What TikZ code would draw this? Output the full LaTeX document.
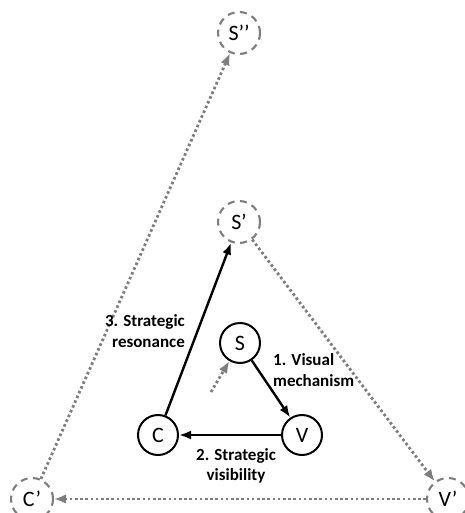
\documentclass[tikz,border=0pt]{standalone}
\usepackage{fontspec}
\setmainfont{Carlito}
\usetikzlibrary{arrows.meta}
\definecolor{dgray}{RGB}{125,125,125}
\tikzset{
  main/.style={circle, draw=black, line width=2pt, minimum size=40pt, inner sep=0pt, font=\fontsize{22}{26}\selectfont},
  ghost/.style={circle, draw=dgray, line width=2.1pt, dash pattern=on 7pt off 5.5pt, minimum size=42pt, inner sep=0pt, font=\fontsize{22}{26}\selectfont},
  solidarrow/.style={line width=2.4pt, -{Latex[length=12pt,width=9pt]}},
  dotarrow/.style={draw=dgray, line width=2.8pt, dash pattern=on 2.6pt off 2.6pt, -{Latex[length=12pt,width=9.5pt]}},
  lbl/.style={font=\bfseries\fontsize{17}{20.5}\selectfont, inner sep=0pt}
}
\begin{document}
\begin{tikzpicture}[x=1pt,y=-1pt]
\useasboundingbox (0,0) rectangle (464,513);
% outer ghost nodes
\node[ghost] (S2) at (239,33) {S’’};
\node[ghost] (S1) at (239,222) {S’};
\node[ghost] (C1) at (32,499) {C’};
\node[ghost] (V1) at (448,499) {V’};
% inner nodes
\node[main] (S) at (240,343) {S};
\node[main] (C) at (158,435) {C};
\node[main] (V) at (302,435) {V};
\coordinate (p) at (211,392);
% connectors
\draw[solidarrow] (S) -- (V);
\draw[solidarrow] (V) -- (C);
\draw[solidarrow] (C) -- (S1);
\draw[dotarrow] (p) -- (S);
\draw[dotarrow] (S1) -- (V1);
\draw[dotarrow] (V1) -- (C1);
\draw[dotarrow] (C1) -- (S2);
% labels
\node[lbl, align=left, anchor=west] (l1) at (273,370) {1. Visual\\mechanism};
\node[lbl, align=center] (l2) at (236,466) {2. Strategic\\visibility};
\node[lbl, align=right, anchor=east] (l3) at (185,331) {3. Strategic\\resonance};
\end{tikzpicture}
\end{document}
